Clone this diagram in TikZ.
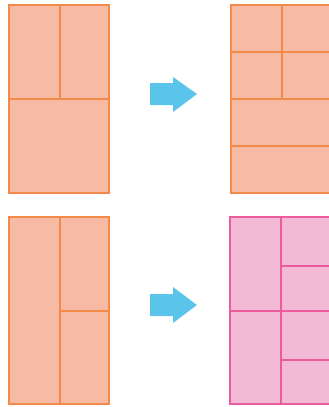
\documentclass[tikz,border=0pt]{standalone}
\usetikzlibrary{calc}
\definecolor{salmonfill}{HTML}{F7BBA5}
\definecolor{salmonline}{HTML}{F4894C}
\definecolor{pinkfill}{HTML}{F4B9D5}
\definecolor{pinkline}{HTML}{EA5C9D}
\definecolor{arrowblue}{HTML}{5AC4EA}

\begin{document}
\begin{tikzpicture}[
  x=1pt, y=-1pt,
  sheet/.style={draw=#1line, fill=#1fill, line width=2.4pt},
  cutline/.style={draw=#1line, line width=2.4pt},
  blockarrow/.style={fill=arrowblue, draw=none}
]
\clip (0,0) rectangle (329,407);
% top row: sheet before
\draw[sheet=salmon] (9,5) rectangle (109,193);
\draw[cutline=salmon] (60,5) -- (60,99);
\draw[cutline=salmon] (9,99) -- (109,99);
% top row: sheet after
\draw[sheet=salmon] (231,5) rectangle (331,193);
\draw[cutline=salmon] (282,5) -- (282,99);
\draw[cutline=salmon] (231,52) -- (331,52);
\draw[cutline=salmon] (231,99) -- (331,99);
\draw[cutline=salmon] (231,146) -- (331,146);
% top arrow
\path[blockarrow] (150,83) -- (173,83) -- (173,77) -- (197,94)
  -- (173,112) -- (173,105) -- (150,105) -- cycle;
% bottom row: sheet before
\draw[sheet=salmon] (9,217) rectangle (109,404);
\draw[cutline=salmon] (60,217) -- (60,404);
\draw[cutline=salmon] (60,311) -- (109,311);
% bottom row: sheet after
\draw[sheet=pink] (230,217) rectangle (330,404);
\draw[cutline=pink] (281,217) -- (281,404);
\draw[cutline=pink] (230,311) -- (330,311);
\draw[cutline=pink] (281,266) -- (330,266);
\draw[cutline=pink] (281,360) -- (330,360);
% bottom arrow
\path[blockarrow] (150,294) -- (173,294) -- (173,287) -- (197,305)
  -- (173,323) -- (173,316) -- (150,316) -- cycle;
\end{tikzpicture}
\end{document}
